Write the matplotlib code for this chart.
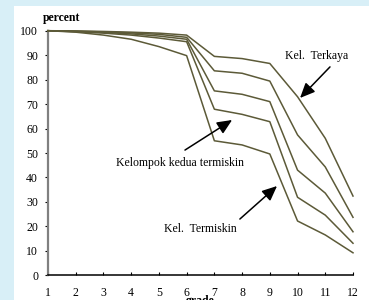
import matplotlib
matplotlib.use('Agg')
import matplotlib.pyplot as plt
from matplotlib.patches import Rectangle

# data
grade = [1, 2, 3, 4, 5, 6, 7, 8, 9, 10, 11, 12]
kel_terkaya = [100, 99.9, 99.7, 99.4, 99.0, 98.2, 89.5, 88.6, 86.6, 73.0, 56.0, 32.4]
kel_4 = [100, 99.8, 99.5, 99.1, 98.5, 97.3, 83.6, 82.6, 79.4, 57.4, 44.3, 23.7]
kel_3 = [100, 99.7, 99.3, 98.7, 97.8, 96.5, 75.4, 74.0, 71.0, 43.0, 33.6, 17.8]
kel_kedua_termiskin = [100, 99.6, 99.0, 98.2, 97.0, 95.5, 67.9, 65.8, 62.8, 31.9, 24.6, 13.1]
kel_termiskin = [100, 99.4, 98.2, 96.5, 93.5, 89.8, 55.0, 53.3, 49.6, 22.2, 16.5, 9.2]

series = [kel_terkaya, kel_4, kel_3, kel_kedua_termiskin, kel_termiskin]

plt.rcParams['font.family'] = ['Liberation Serif', 'DejaVu Serif']
fs = 8.5

fig = plt.figure(figsize=(3.69, 3.0), dpi=100)
fig.patch.set_facecolor('#d8eff7')
fig.patches.append(Rectangle((14 / 369, 0), 1, 1 - 6 / 300, transform=fig.transFigure,
                             facecolor='white', edgecolor='none', zorder=-5))

ax = fig.add_axes([48 / 369, 1 - 275.3 / 300, (353 - 48) / 369, (275.3 - 30.7) / 300])
ax.set_zorder(2)
ax.set_facecolor('white')

line_color = '#5c5a38'
for vals in series:
    ax.plot(grade, vals, color=line_color, linewidth=1.1, clip_on=False, zorder=3)

ax.set_xlim(1, 12)
ax.set_ylim(0, 100)
ax.set_xticks(grade)
ax.set_yticks(range(0, 101, 10))

for s in ['top', 'right']:
    ax.spines[s].set_visible(False)
ax.spines['left'].set_color('#808080')
ax.spines['left'].set_linewidth(1.6)
ax.spines['bottom'].set_color('black')
ax.spines['bottom'].set_linewidth(1.1)

ax.tick_params(axis='y', direction='out', length=2.2, width=0.8, pad=5, labelsize=fs)
ax.tick_params(axis='x', direction='in', length=2.2, width=0.8, pad=8.5, labelsize=fs)

ax.set_xlabel('grade', fontsize=fs, fontweight='bold', labelpad=-3)
fig.text(43 / 369, 1 - 18 / 300, 'percent', fontsize=fs, fontweight='bold',
         ha='left', va='center')

arrow = dict(arrowstyle='-|>,head_length=0.9,head_width=0.4', color='black', lw=1.1,
             shrinkA=0, shrinkB=0)
ax.annotate('', xy=(10.09, 72.5), xytext=(11.17, 85.2), arrowprops=arrow)
ax.annotate('', xy=(7.64, 63.5), xytext=(5.94, 51.2), arrowprops=arrow)
ax.annotate('', xy=(9.26, 36.5), xytext=(7.92, 23.0), arrowprops=arrow)

ax.text(10.70, 89.7, 'Kel.  Terkaya', fontsize=fs, ha='center', va='center')
ax.text(5.76, 45.9, 'Kelompok kedua termiskin', fontsize=fs, ha='center', va='center')
ax.text(6.48, 18.9, 'Kel.  Termiskin', fontsize=fs, ha='center', va='center')

fig.savefig('out.png', dpi=100, facecolor=fig.get_facecolor())
